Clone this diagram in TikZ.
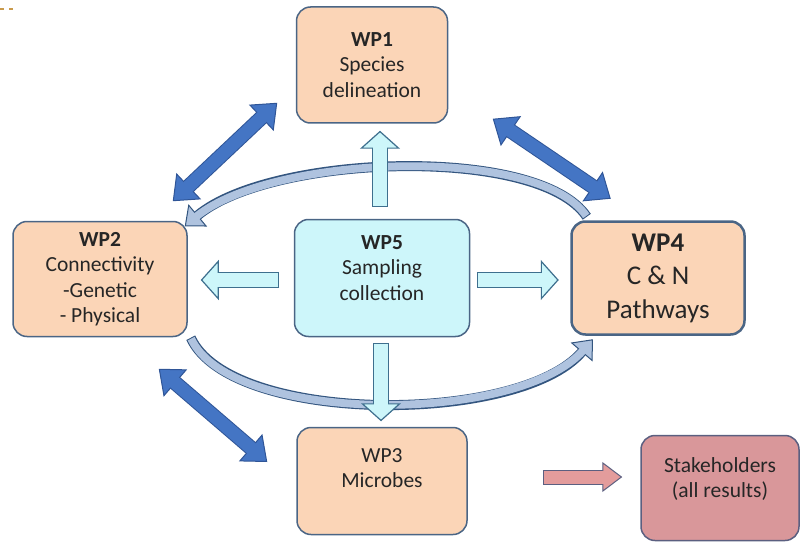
\documentclass[tikz,border=0pt]{standalone}
\usepackage{fontspec}
\setmainfont{Carlito}
\usetikzlibrary{arrows.meta,calc}

\definecolor{peach}{HTML}{FBD5B7}
\definecolor{boxline}{HTML}{4A6585}
\definecolor{skyfill}{HTML}{CDF6FA}
\definecolor{skyline}{HTML}{3E6F8E}
\definecolor{wpblue}{HTML}{4475C4}
\definecolor{wpbluedark}{HTML}{2F5597}
\definecolor{loopfill}{HTML}{AFC3DF}
\definecolor{loopline}{HTML}{33557F}
\definecolor{rosefill}{HTML}{D9979A}
\definecolor{roseline}{HTML}{5B5F80}
\definecolor{pinkarrow}{HTML}{E39C9C}
\definecolor{textgrey}{HTML}{262626}
\definecolor{dashgold}{HTML}{C99A4C}

\begin{document}
\begin{tikzpicture}[
        x=1pt, y=1pt,
        wp/.style={draw=boxline, line width=1.5pt, fill=peach, rounded corners=14pt,
            align=center, text=textgrey, font=\fontsize{21.5}{25.5}\selectfont},
        sky out/.style={draw=skyline, line width=16pt,
            -{Triangle[length=18pt, width=40pt, line width=1.2pt, fill=skyfill]}},
        sky in/.style={draw=skyfill, line width=13.6pt, shorten <=1.2pt, shorten >=14pt},
        blue out/.style={draw=wpbluedark, line width=15pt,
            {Triangle[length=22pt, width=36pt, line width=1pt, fill=wpblue]}-{Triangle[length=22pt, width=36pt, line width=1pt, fill=wpblue]}},
        blue in/.style={draw=wpblue, line width=13pt, shorten <=18pt, shorten >=18pt},
        loop out/.style={draw=loopline, line width=10pt,
            -{Triangle[length=17pt, width=29pt, line width=1pt, fill=loopfill]}},
        loop in/.style={draw=loopfill, line width=7.8pt, shorten <=1pt, shorten >=14pt},
        rose out/.style={draw=roseline, line width=15pt,
            -{Triangle[length=20pt, width=30pt, line width=1pt, fill=pinkarrow]}},
        rose in/.style={draw=pinkarrow, line width=13pt, shorten <=1pt, shorten >=16pt},
    ]
    \useasboundingbox (0,0) rectangle (802,-548);
    \draw[dashgold, line width=2pt, dash pattern=on 4pt off 5pt] (0,-9) -- (14,-9);

    % work packages
    \node[wp, minimum width=151pt, minimum height=116pt] (wp1) at (372,-65)
        {\textbf{WP1}\\Species\\delineation};
    \node[wp, minimum width=174pt, minimum height=115pt] (wp2) at (100,-279)
        {\textbf{WP2}\\Connectivity\\-Genetic\\- Physical};
    \node[wp, fill=skyfill, minimum width=175pt, minimum height=117pt, text depth=20pt] (wp5) at (382,-278)
        {\textbf{WP5}\\Sampling\\collection};
    \node[wp, line width=2.5pt, minimum width=173pt, minimum height=113pt,
        font=\fontsize{27}{33.5}\selectfont] (wp4) at (658,-278)
        {\textbf{WP4}\\C \& N\\Pathways};
    \node[wp, minimum width=170pt, minimum height=107pt, text depth=26pt] (wp3) at (382,-481)
        {WP3\\Microbes};
    \node[wp, fill=rosefill, draw=roseline, minimum width=158pt, minimum height=105pt,
        text depth=21pt] (stake) at (720,-488)
        {Stakeholders\\(all results)};

    % loops between WP2 and WP4
    \draw[loop out] ($(wp4.north west)+(16.5,3.5)$) .. controls +(-48,72) and +(86,72) .. ($(wp2.north east)+(-3,-5.5)$);
    \draw[loop in] ($(wp4.north west)+(16.5,3.5)$) .. controls +(-48,72) and +(86,72) .. ($(wp2.north east)+(-3,-5.5)$);
    \draw[loop out] ($(wp2.south east)+(3,-0.5)$) .. controls +(40,-87) and +(-74,-86) .. ($(wp4.south west)+(22.5,-3.5)$);
    \draw[loop in] ($(wp2.south east)+(3,-0.5)$) .. controls +(40,-87) and +(-74,-86) .. ($(wp4.south west)+(22.5,-3.5)$);

    % sampling goes out to every package
    \foreach \from/\to in {{([shift={(-2,12)}]wp5.north)}/{([shift={(8,-7)}]wp1.south)},
                           {([shift={(-14.5,-2)}]wp5.west)}/{([shift={(13,-1)}]wp2.east)},
                           {([shift={(6.5,-2)}]wp5.east)}/{([shift={(-11.5,-2)}]wp4.west)},
                           {([shift={(-1,-5.5)}]wp5.south)}/{([shift={(-1,5.5)}]wp3.north)}} {
        \draw[sky out] \from -- \to;
        \draw[sky in] \from -- \to;
    }

    % exchanges between packages
    \foreach \from/\to in {{($(wp1.south west)+(-18.5,21)$)}/{($(wp2.north east)+(-15,19.5)$)},
                           {($(wp1.south east)+(44.5,5)$)}/{($(wp4.north west)+(40.5,21.5)$)},
                           {($(wp2.south east)+(-29,-31.5)$)}/{($(wp3.west)+(-29,19)$)}} {
        \draw[blue out] \from -- \to;
        \draw[blue in] \from -- \to;
    }

    \draw[rose out] ($(wp3.east)+(75,4)$) -- ($(stake.west)+(-18,11)$);
    \draw[rose in] ($(wp3.east)+(75,4)$) -- ($(stake.west)+(-18,11)$);

\end{tikzpicture}
\end{document}
